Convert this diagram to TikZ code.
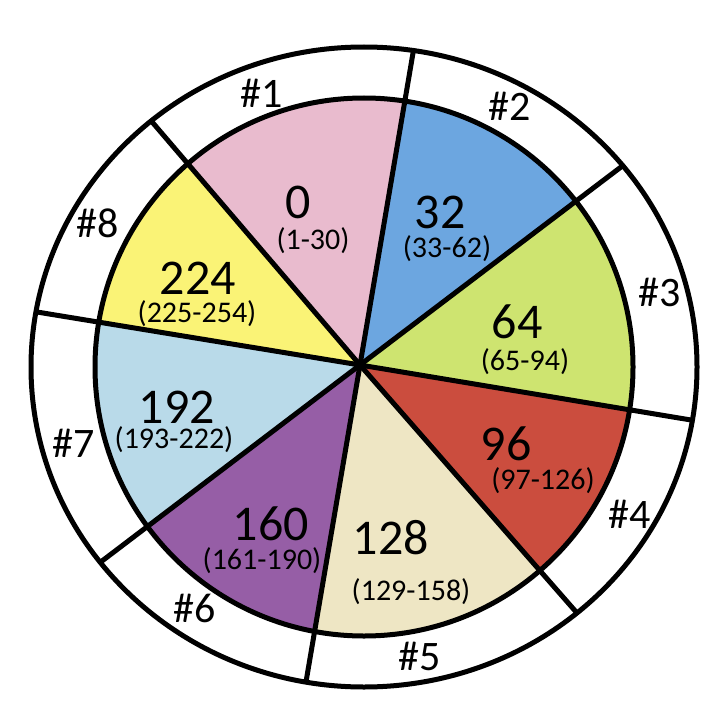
\documentclass[tikz,border=0pt]{standalone}
\usepackage{fontspec}
\setmainfont{Carlito}
\usetikzlibrary{calc}
\definecolor{cpink}{HTML}{E9BBCE}
\definecolor{cblue}{HTML}{6CA6E0}
\definecolor{cgreen}{HTML}{CEE470}
\definecolor{cred}{HTML}{CB4D3E}
\definecolor{cbeige}{HTML}{EEE6C4}
\definecolor{cpurple}{HTML}{965EA6}
\definecolor{clblue}{HTML}{B9DAE9}
\definecolor{cyellow}{HTML}{FAF376}
\begin{document}
\begin{tikzpicture}[x=1pt,y=-1pt,
  bignum/.style={font=\fontsize{50}{60}\selectfont, inner sep=0pt},
  rng/.style={font=\fontsize{30}{36}\selectfont, inner sep=0pt},
  hashlbl/.style={font=\fontsize{42}{50}\selectfont, inner sep=0pt},
  ring/.style={line width=5pt}]
\fill[white] (0,0) rectangle (728,706);
\useasboundingbox (0,0) rectangle (728,706);
\coordinate (hub) at (360,365);
\coordinate (ic) at (364,367);
\coordinate (s18) at (153,123);
\coordinate (s12) at (413,53);
\coordinate (s23) at (621,167);
\coordinate (s34) at (691,420);
\coordinate (s45) at (577,613);
\coordinate (s56) at (307,676);
\coordinate (s67) at (102,561);
\coordinate (s78) at (37,312);
% sectors
\begin{scope}
\clip (ic) circle[radius=269pt];
\fill[cpink]   (hub) -- ($(hub)!2!(s18)$) -- ($(hub)!2!(s12)$) -- cycle;
\fill[cblue]   (hub) -- ($(hub)!2!(s12)$) -- ($(hub)!2!(s23)$) -- cycle;
\fill[cgreen]  (hub) -- ($(hub)!2!(s23)$) -- ($(hub)!2!(s34)$) -- cycle;
\fill[cred]    (hub) -- ($(hub)!2!(s34)$) -- ($(hub)!2!(s45)$) -- cycle;
\fill[cbeige]  (hub) -- ($(hub)!2!(s45)$) -- ($(hub)!2!(s56)$) -- cycle;
\fill[cpurple] (hub) -- ($(hub)!2!(s56)$) -- ($(hub)!2!(s67)$) -- cycle;
\fill[clblue]  (hub) -- ($(hub)!2!(s67)$) -- ($(hub)!2!(s78)$) -- cycle;
\fill[cyellow] (hub) -- ($(hub)!2!(s78)$) -- ($(hub)!2!(s18)$) -- cycle;
\end{scope}
% spokes
\begin{scope}
\clip (ic) ellipse[x radius=333pt, y radius=320pt];
\foreach \s in {s18,s12,s23,s34,s45,s56,s67,s78}
  \draw[ring] (hub) -- ($(hub)!1.1!(\s)$);
\end{scope}
\draw[ring] (ic) circle[radius=269pt];
\draw[ring] (ic) ellipse[x radius=333pt, y radius=320pt];
% values
\node[bignum] (n0)   at (298,202) {0};
\node[rng]    (r0)   at (313,241) {(1-30)};
\node[bignum] (n32)  at (440,212) {32};
\node[rng]    (r32)  at (447,249) {(33-62)};
\node[bignum] (n64)  at (517,322) {64};
\node[rng]    (r64)  at (525,362) {(65-94)};
\node[bignum] (n96)  at (506,444) {96};
\node[rng]    (r96)  at (543,481) {(97-126)};
\node[bignum] (n128) at (391,538) {128};
\node[rng]    (r128) at (411,592) {(129-158)};
\node[bignum] (n160) at (271,524) {160};
\node[rng]    (r160) at (262,561) {(161-190)};
\node[bignum] (n192) at (177,407) {192};
\node[rng]    (r192) at (174,440) {(193-222)};
\node[bignum] (n224) at (198,278) {224};
\node[rng]    (r224) at (197,314) {(225-254)};
% ring labels
\node[hashlbl] (h1) at (262,93)  {\#1};
\node[hashlbl] (h2) at (510,106) {\#2};
\node[hashlbl] (h3) at (660,292) {\#3};
\node[hashlbl] (h4) at (630,514) {\#4};
\node[hashlbl] (h5) at (420,656) {\#5};
\node[hashlbl] (h6) at (195,608) {\#6};
\node[hashlbl] (h7) at (74,443)  {\#7};
\node[hashlbl] (h8) at (98,223)  {\#8};
\end{tikzpicture}
\end{document}
